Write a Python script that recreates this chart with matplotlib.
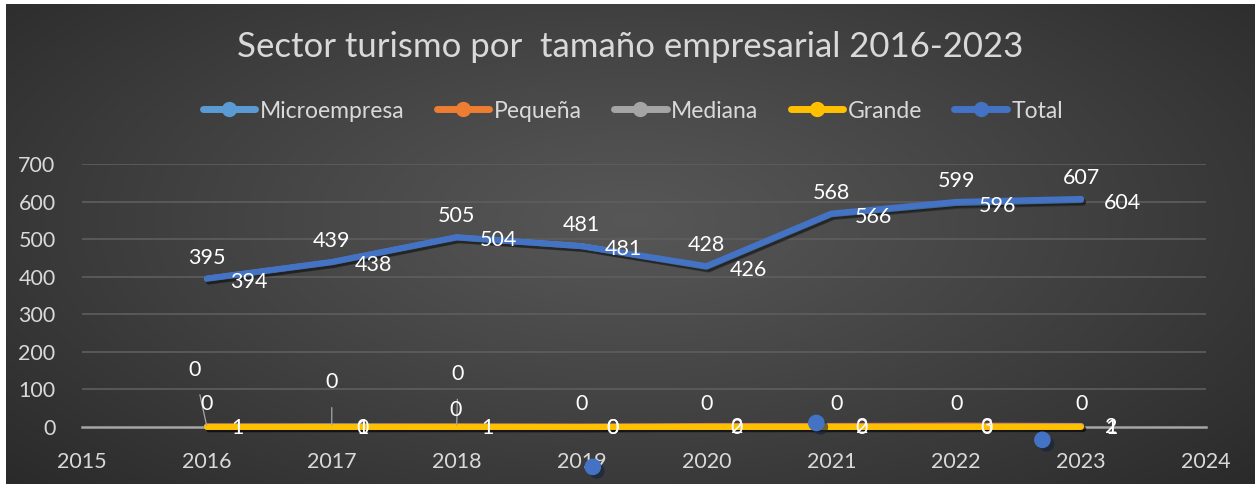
import numpy as np
import matplotlib
matplotlib.use("Agg")
import matplotlib.pyplot as plt
import matplotlib.patheffects as pe
from matplotlib.lines import Line2D

# --- data -------------------------------------------------------------
years = [2016, 2017, 2018, 2019, 2020, 2021, 2022, 2023]
microempresa = [394, 438, 504, 481, 426, 566, 596, 604]
pequena = [1, 0, 1, 0, 2, 2, 3, 2]
mediana = [0, 1, 0, 0, 0, 0, 0, 1]
grande = [0, 0, 0, 0, 0, 0, 0, 0]
total = [395, 439, 505, 481, 428, 568, 599, 607]
series_names = ["Microempresa", "Pequeña", "Mediana", "Grande", "Total"]
title_text = "Sector turismo por  tamaño empresarial 2016-2023"
y_ticks = [0, 100, 200, 300, 400, 500, 600, 700]
x_ticks = [2015, 2016, 2017, 2018, 2019, 2020, 2021, 2022, 2023, 2024]
# loose marker shapes sitting on the plot
loose_x = [2019.09, 2020.88, 2022.69]
loose_y = [-107, 10, -35]

# --- style ------------------------------------------------------------
plt.rcParams["font.family"] = ["Lato", "DejaVu Sans"]
colors = {"Microempresa": "#5B9BD5", "Pequeña": "#ED7D31",
          "Mediana": "#A5A5A5", "Grande": "#FFC000", "Total": "#4472C4"}
text_c = "#D9D9D9"
W, H = 1255, 487
fig = plt.figure(figsize=(W / 100, H / 100), dpi=100)
fig.patch.set_facecolor("white")

# radial dark background
bg = fig.add_axes([6 / W, 3 / H, (W - 6) / W, (H - 7) / H])
yy, xx = np.mgrid[0:1:300j, 0:1:700j]
d = np.sqrt(((xx - 0.5) / 0.75) ** 2 + ((yy - 0.45) / 0.9) ** 2)
lev = 0.34 - 0.195 * np.clip(d, 0, 1) ** 1.1
img = np.dstack([lev, lev, lev])
bg.imshow(img, aspect="auto", extent=[0, 1, 0, 1], interpolation="bilinear")
bg.set_axis_off()

ax = fig.add_axes([82 / W, (H - 426.7) / H, (1206 - 82) / W, (426.7 - 164) / H])
ax.set_facecolor("none")
ax.set_xlim(2015, 2024)
ax.set_ylim(0, 700)
ax.set_xticks(x_ticks)
ax.set_yticks(y_ticks)
ax.tick_params(colors=text_c, labelsize=15.5, length=0)
ax.tick_params(axis="x", pad=18)
ax.tick_params(axis="y", pad=19)
for s in ax.spines.values():
    s.set_visible(False)
for v in y_ticks[1:]:
    ax.axhline(v, color="#5E5E5E", lw=1.2, zorder=0)
ax.axhline(0, color="#A6A6A6", lw=1.8, zorder=1, clip_on=False)

shadow = [pe.SimpleLineShadow(offset=(1.5, -2), shadow_color="black", alpha=0.3),
          pe.Normal()]
data = {"Microempresa": microempresa, "Pequeña": pequena, "Mediana": mediana,
        "Grande": grande, "Total": total}
order = ["Microempresa", "Pequeña", "Mediana", "Grande", "Total"]
z = {"Microempresa": 3, "Pequeña": 3.5, "Mediana": 3.6, "Grande": 4, "Total": 5}
for name in order:
    ax.plot(years, data[name], color=colors[name], lw=4.3,
            solid_capstyle="round", solid_joinstyle="round",
            path_effects=shadow, zorder=z[name], clip_on=False)

# loose markers
ax.plot(loose_x, loose_y, "o", color=colors["Total"], ms=11, clip_on=False,
        path_effects=[pe.SimplePatchShadow(offset=(3, -3), alpha=0.6), pe.Normal()],
        zorder=6, mec=colors["Total"])

lab_kw = dict(color="white", fontsize=15.5, zorder=8, textcoords="offset points",
              annotation_clip=False)
# totals above, microempresa to the right
for x, v in zip(years, total):
    ax.annotate(str(v), (x, v), xytext=(0, 15), ha="center", va="center", **lab_kw)
for x, v in zip(years, microempresa):
    ax.annotate(str(v), (x, v), xytext=(30, -2), ha="center", va="center", **lab_kw)
for x, v in zip(years, pequena):
    ax.annotate(str(v), (x, v), xytext=(22, -1), ha="center", va="center", **lab_kw)

# mediana: right except where moved up with a leader line
med_offsets = [(-9, 41), (22, -1), (1, 38), (22, -1), (22, -1), (22, -1), (22, -1), (22, -1)]
for (x, v), off in zip(zip(years, mediana), med_offsets):
    lead = off[1] > 20
    ax.annotate(str(v), (x, v), xytext=off, ha="center", va="center",
                arrowprops=dict(arrowstyle="-", color="#A6A6A6", lw=0.9,
                                shrinkA=9, shrinkB=1) if lead else None, **lab_kw)

# grande: above, one moved higher with a leader line
gr_offsets = [(0, 16), (0, 32), (-1, 12), (0, 16), (0, 16), (4, 16), (0, 16), (0, 16)]
for (x, v), off in zip(zip(years, grande), gr_offsets):
    lead = off[1] > 20
    ax.annotate(str(v), (x, v), xytext=off, ha="center", va="center",
                arrowprops=dict(arrowstyle="-", color="#A6A6A6", lw=0.9,
                                shrinkA=9, shrinkB=1) if lead else None, **lab_kw)

# title and legend
fig.text(630 / W, 1 - 47 / H, title_text, ha="center", va="center",
         fontsize=25, color=text_c)
handles = [Line2D([0], [0], color=colors[n], lw=5, marker="o", ms=10,
                  mfc=colors[n], mec=colors[n], solid_capstyle="round")
           for n in series_names]
leg = fig.legend(handles, series_names, loc="center", bbox_to_anchor=(633 / W, 1 - 111 / H),
                 ncol=5, frameon=False, fontsize=16.5, labelcolor=text_c,
                 handlelength=2.3, handletextpad=0.2, columnspacing=1.4)

fig.savefig("out.png", dpi=100, facecolor=fig.get_facecolor())
